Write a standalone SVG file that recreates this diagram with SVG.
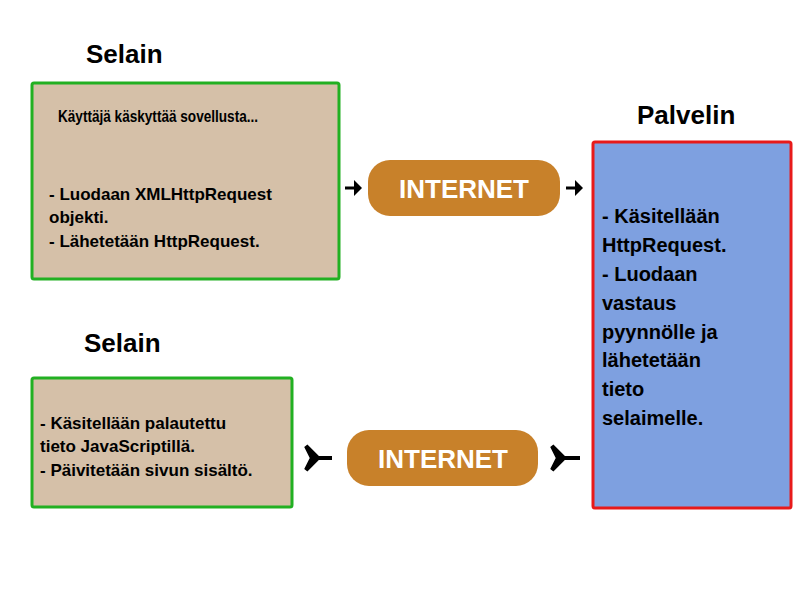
<svg xmlns="http://www.w3.org/2000/svg" width="800" height="600" viewBox="0 0 800 600">
<style>
.t{font-family:"Liberation Sans",Arial,sans-serif;font-weight:bold;fill:#000}
.h{font-size:26px}
.b{font-size:17px}
.s{font-size:18px}
.i{font-family:"Liberation Sans",Arial,sans-serif;font-weight:bold;font-size:26px;fill:#fff}
.pill{fill:#c8812a}
.ar{stroke:#000;stroke-width:3;fill:none}
</style>
<rect width="800" height="600" fill="#fff"/>
<text class="t h" x="86" y="63">Selain</text>
<text class="t h" x="637" y="124">Palvelin</text>
<text class="t h" x="84" y="352">Selain</text>
<g id="browser1">
<rect x="32" y="83" width="307" height="196" fill="#d5c0a8" stroke="#22b022" stroke-width="3" rx="2"/>
<text class="t" x="58" y="122" font-size="16" transform="translate(58 122) scale(0.85 1) translate(-58 -122)">Käyttäjä käskyttää sovellusta...</text>
<text class="t b" x="49" y="200">- Luodaan XMLHttpRequest</text>
<text class="t b" x="49" y="223">objekti.</text>
<text class="t b" x="49" y="247">- Lähetetään HttpRequest.</text>
</g>
<g id="server">
<rect x="593" y="142" width="198" height="366" fill="#7ea0e0" stroke="#e81a1a" stroke-width="3" rx="2"/>
<text class="t" font-size="20" x="602" y="223">- Käsitellään</text>
<text class="t" font-size="20" x="602" y="252">HttpRequest.</text>
<text class="t" font-size="20" x="602" y="281">- Luodaan</text>
<text class="t" font-size="20" x="602" y="310">vastaus</text>
<text class="t" font-size="20" x="602" y="339">pyynnölle ja</text>
<text class="t" font-size="20" x="602" y="367">lähetetään</text>
<text class="t" font-size="20" x="602" y="396">tieto</text>
<text class="t" font-size="20" x="602" y="425">selaimelle.</text>
</g>
<g id="browser2">
<rect x="32" y="378" width="260" height="129" fill="#d5c0a8" stroke="#22b022" stroke-width="3" rx="2"/>
<text class="t b" x="40" y="429">- Käsitellään palautettu</text>
<text class="t b" x="40" y="452">tieto JavaScriptillä.</text>
<text class="t b" x="40" y="476">- Päivitetään sivun sisältö.</text>
</g>
<g id="internet1">
<rect class="pill" x="368" y="160" width="192" height="56" rx="22"/>
<text class="i" x="464" y="198" text-anchor="middle">INTERNET</text>
</g>
<g id="internet2">
<rect class="pill" x="347" y="430" width="191" height="56" rx="22"/>
<text class="i" x="443" y="468" text-anchor="middle">INTERNET</text>
</g>
<g id="connectors">
<path class="ar" d="M345 188 H360"/><path d="M354 180 L362 188 L354 196 Z" fill="#000"/>
<path class="ar" d="M566 188 H581"/><path d="M575 180 L583 188 L575 196 Z" fill="#000"/>
<path d="M332 458 H318 M318 458 L306 446 L312 458 L306 470 Z" stroke="#000" stroke-width="4" fill="#000"/>
<path d="M580 458 H564 M564 458 L552 446 L558 458 L552 470 Z" stroke="#000" stroke-width="4" fill="#000"/>
</g>
</svg>
